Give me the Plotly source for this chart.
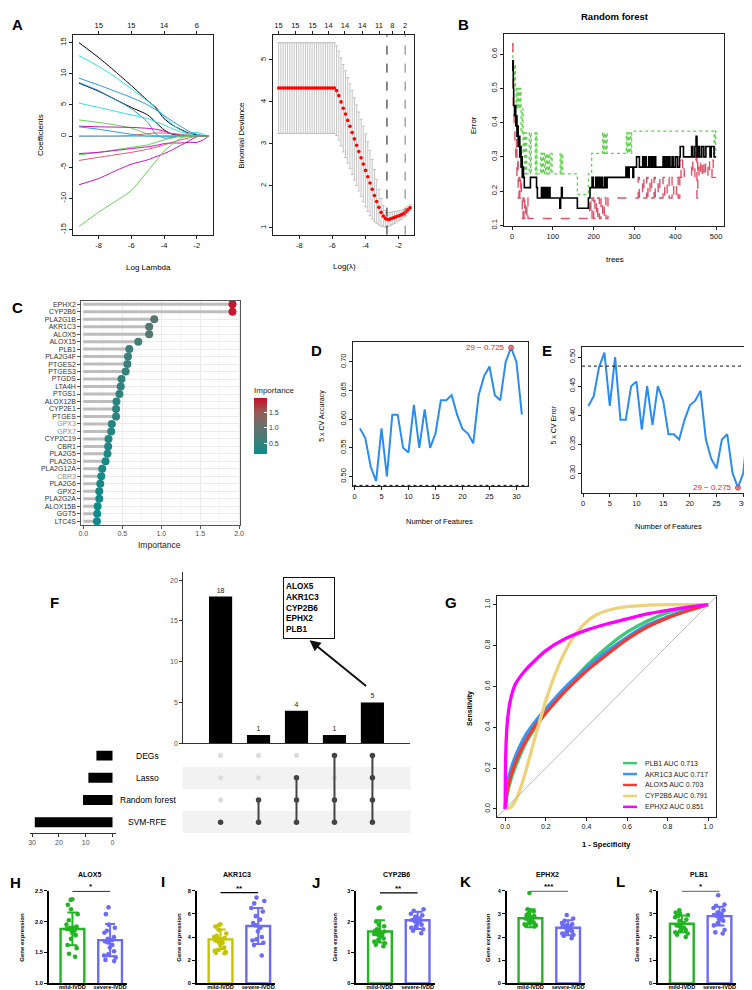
import plotly.graph_objects as go
import numpy as np

W, H = 752, 990
FONT = "Liberation Sans, Arial, Helvetica, sans-serif"


def xd(a, b):
    return [a / W, b / W]


def yd(top, bottom):
    return [1 - bottom / H, 1 - top / H]


def px(x):
    return x / W


def py(y):
    return 1 - y / H


# ============================ DATA ============================
# --- A (left): lasso coefficient paths
lasso_loglambda = [-9.2, -8, -7, -6, -5, -4.5, -4, -3.5, -3, -2.5, -2, -1.6, -1.3]
coef_p01 = [15.0, 12.6, 10.4, 8.1, 5.7, 4.5, 2.8, 1.8, 1.1, 0.5, 0.2, 0.05, 0]
coef_p02 = [12.9, 11.2, 9.5, 7.6, 5.6, 4.7, 3.1, 1.9, 1.0, 0.4, 0.6, 0.3, 0]
coef_p03 = [9.3, 8.2, 7.2, 6.2, 5.0, 4.2, 3.3, 2.4, 1.6, 0.8, 0.3, 0.1, 0]
coef_p04 = [8.5, 7.2, 5.9, 4.6, 3.4, 2.2, 1.0, 0.3, 0.1, 0, 0, 0, 0]
coef_p05 = [8.6, 7.3, 5.9, 4.4, 2.2, 0.3, -0.3, -0.2, 0, 0, 0, 0, 0]
coef_p06 = [5.3, 4.6, 4.0, 3.4, 2.8, 2.3, 1.8, 1.2, 0.7, 0.3, 0.1, 0, 0]
coef_p07 = [2.6, 2.2, 1.8, 1.3, 0.3, 0, 0, 0, 0, 0, 0, 0, 0]
coef_p08 = [1.6, 1.5, 1.45, 1.4, 1.25, 1.1, 0.8, 0.4, 0.2, 0.05, 0, 0, 0]
coef_p09 = [1.5, 1.1, 0.7, 0.3, 0, 0, 0, 0, 0, 0, 0, 0, 0]
coef_p10 = [0, 0, 0, 0.1, 0.4, 0.5, 0.5, 0.4, 0.3, 0.15, 0.05, 0, 0]
coef_p11 = [0, 0, 0, 0, 0, 0, 0, 0, 0, 0, 0, 0, 0]
coef_p12 = [-3.0, -2.6, -2.2, -1.8, -1.4, -1.0, -0.6, -0.3, 0, 0, 0, 0, 0]
coef_p13 = [-2.8, -2.6, -2.3, -2.0, -1.7, -1.5, -1.2, -1.1, -1.1, -1.0, -1.0, -0.6, 0]
coef_p14 = [-3.9, -3.4, -3.0, -2.6, -2.1, -1.8, -1.4, -1.0, -0.6, -0.3, 0, 0, 0]
coef_p15 = [-7.8, -6.8, -5.6, -4.5, -3.8, -3.3, -2.8, -2.2, -1.5, -0.8, -0.1, 0, 0]
coef_p16 = [-14.5, -12.2, -10.5, -8.7, -5.6, -4.0, -2.4, -1.3, -0.3, 0, 0, 0, 0]
coef_paths = [coef_p01, coef_p02, coef_p03, coef_p04, coef_p05, coef_p06, coef_p07, coef_p08,
              coef_p09, coef_p10, coef_p11, coef_p12, coef_p13, coef_p14, coef_p15, coef_p16]
lasso_top_ticks = [-8, -6, -4, -2]
lasso_top_labels = ["15", "15", "14", "6"]

# --- A (right): cross-validated binomial deviance
cv_lambda_from, cv_lambda_to = -9.25, -1.30
cv_deviance = [4.33] * 26 + [
    4.27, 4.15, 4.00, 3.85, 3.71, 3.56, 3.42, 3.27, 3.12, 2.97, 2.82, 2.67, 2.52, 2.37,
    2.22, 2.07, 1.92, 1.77, 1.63, 1.49, 1.37, 1.28, 1.22, 1.20, 1.21, 1.23, 1.25, 1.27,
    1.29, 1.31, 1.34, 1.38, 1.43, 1.48]
cv_sd = [1.08] * 26 + [
    1.07, 1.06, 1.05, 1.04, 1.03, 1.02, 1.01, 1.00, 0.98, 0.96, 0.94, 0.92, 0.90, 0.87,
    0.83, 0.78, 0.71, 0.62, 0.52, 0.42, 0.33, 0.25, 0.20, 0.17, 0.16, 0.15, 0.14, 0.13,
    0.12, 0.11, 0.10, 0.09, 0.08, 0.07]
cv_lambda_min = -2.7
cv_lambda_1se = -1.6
cv_top_ticks = [-9.26, -8.24, -7.20, -6.24, -5.24, -4.20, -3.18, -2.38, -1.61]
cv_top_labels = ["15", "15", "15", "14", "14", "14", "11", "8", "2"]

# --- B: random forest error vs trees
rf_oob_trees = [1, 2, 3, 4, 6, 8, 9, 11, 12, 14, 15, 17, 19, 21, 22, 24, 25, 27, 28, 30,
                45, 60, 62, 72, 74, 77, 79, 82, 84, 86, 88, 91, 93, 95, 117, 119, 121, 123, 125, 160,
                187, 191, 196, 199, 205, 208, 211, 214, 218, 221, 226, 229, 233, 279, 281, 283, 285, 287, 294, 296,
                298, 305, 312, 320, 323, 326, 329, 335, 338, 342, 345, 349, 352, 370, 373, 377, 380, 384, 387, 392,
                395, 400, 405, 410, 412, 420, 440, 443, 448, 451, 453, 456, 460, 465, 470, 475, 485, 488, 495, 500]
rf_oob_err = [0.55, 0.58, 0.5, 0.45, 0.42, 0.45, 0.39, 0.42, 0.36, 0.39, 0.33, 0.36, 0.3, 0.33, 0.27, 0.3, 0.24, 0.27, 0.24, 0.21,
              0.24, 0.21, 0.18, 0.21, 0.18, 0.21, 0.18, 0.21, 0.18, 0.21, 0.18, 0.21, 0.18, 0.18, 0.15, 0.18, 0.21, 0.18, 0.18, 0.15,
              0.18, 0.21, 0.24, 0.21, 0.24, 0.21, 0.24, 0.21, 0.24, 0.21, 0.24, 0.21, 0.24, 0.27, 0.24, 0.27, 0.24, 0.27, 0.27, 0.24,
              0.27, 0.3, 0.27, 0.3, 0.27, 0.3, 0.27, 0.3, 0.27, 0.3, 0.27, 0.3, 0.27, 0.3, 0.27, 0.3, 0.27, 0.3, 0.27, 0.3,
              0.27, 0.3, 0.27, 0.3, 0.33, 0.3, 0.33, 0.3, 0.33, 0.36, 0.3, 0.33, 0.3, 0.33, 0.3, 0.33, 0.3, 0.33, 0.3, 0.3]
rf_c1_trees = [1, 2, 3, 5, 7, 9, 11, 12, 14, 15, 17, 19, 21, 23, 25, 27, 29, 31, 33, 36,
               39, 190, 193, 196, 200, 203, 207, 210, 214, 218, 222, 226, 230, 235, 309, 312, 320, 323, 330, 333,
               338, 342, 348, 351, 358, 362, 370, 374, 380, 385, 392, 396, 403, 407, 411, 414, 418, 422, 440, 443,
               448, 451, 453, 455, 458, 462, 466, 470, 474, 480, 484, 490, 493, 500]
rf_c1_err = [0.63, 0.55, 0.45, 0.4, 0.35, 0.3, 0.35, 0.24, 0.3, 0.18, 0.24, 0.18, 0.24, 0.18, 0.12, 0.18, 0.12, 0.18, 0.12, 0.18,
             0.12, 0.18, 0.12, 0.18, 0.12, 0.18, 0.12, 0.18, 0.12, 0.18, 0.12, 0.18, 0.12, 0.18, 0.24, 0.18, 0.24, 0.18, 0.24, 0.18,
             0.24, 0.18, 0.24, 0.18, 0.24, 0.18, 0.24, 0.18, 0.24, 0.18, 0.24, 0.18, 0.24, 0.18, 0.29, 0.24, 0.29, 0.24, 0.29, 0.24,
             0.29, 0.35, 0.18, 0.29, 0.24, 0.29, 0.24, 0.29, 0.24, 0.29, 0.24, 0.29, 0.24, 0.24]
rf_c2_trees = [1, 2, 4, 6, 8, 10, 12, 14, 16, 18, 20, 22, 25, 27, 29, 31, 33, 36, 42, 45,
               47, 55, 57, 59, 61, 70, 72, 75, 77, 80, 82, 85, 87, 90, 92, 95, 98, 118, 120, 122,
               124, 160, 187, 195, 222, 224, 226, 228, 231, 233, 280, 282, 284, 286, 288, 291, 293, 300, 495, 497,
               499, 500]
rf_c2_err = [0.63, 0.57, 0.5, 0.57, 0.5, 0.44, 0.5, 0.44, 0.5, 0.44, 0.5, 0.37, 0.44, 0.31, 0.37, 0.25, 0.37, 0.25, 0.37, 0.25,
             0.37, 0.37, 0.25, 0.37, 0.25, 0.31, 0.25, 0.31, 0.25, 0.31, 0.25, 0.31, 0.25, 0.31, 0.25, 0.31, 0.25, 0.31, 0.25, 0.31,
             0.25, 0.19, 0.25, 0.31, 0.37, 0.31, 0.37, 0.31, 0.37, 0.31, 0.37, 0.31, 0.37, 0.31, 0.37, 0.31, 0.37, 0.375, 0.31, 0.375,
             0.31, 0.31]

# --- C: random forest importance
imp_genes = ["EPHX2", "CYP2B6", "PLA2G1B", "AKR1C3", "ALOX5", "ALOX15", "PLB1", "PLA2G4F", "PTGES2", "PTGES3",
             "PTGDS", "LTA4H", "PTGS1", "ALOX12B", "CYP2E1", "PTGES", "GPX3", "GPX7", "CYP2C19", "CBR1",
             "PLA2G5", "PLA2G3", "PLA2G12A", "CBR3", "PLA2G6", "GPX2", "PLA2G2A", "ALOX15B", "GGT5", "LTC4S"]
imp_values = [1.915, 1.915, 0.91, 0.845, 0.845, 0.705, 0.59, 0.573, 0.565, 0.543,
              0.49, 0.48, 0.463, 0.425, 0.42, 0.42, 0.365, 0.357, 0.323, 0.318,
              0.31, 0.285, 0.242, 0.23, 0.217, 0.204, 0.204, 0.183, 0.178, 0.174]
imp_gray_genes = ["GPX3", "GPX7", "CBR3"]

# --- D / E: SVM-RFE
svm_n_features = list(range(1, 32))
svm_accuracy = [0.584, 0.567, 0.517, 0.492, 0.584, 0.500, 0.608, 0.608, 0.550, 0.542,
                0.625, 0.550, 0.617, 0.550, 0.575, 0.633, 0.633, 0.642, 0.608, 0.583,
                0.575, 0.558, 0.642, 0.675, 0.692, 0.642, 0.633, 0.700, 0.725, 0.700, 0.608]
svm_error = [0.416, 0.433, 0.483, 0.508, 0.416, 0.500, 0.392, 0.392, 0.450, 0.458,
             0.375, 0.450, 0.383, 0.450, 0.425, 0.367, 0.367, 0.358, 0.392, 0.417,
             0.425, 0.442, 0.358, 0.325, 0.308, 0.358, 0.367, 0.300, 0.275, 0.300, 0.392]
svm_best_n = 29
svm_acc_ref = 0.4845
svm_err_ref = 0.4846

# --- F: UpSet
upset_sets = ["DEGs", "Lasso", "Random forest", "SVM-RFE"]
upset_set_sizes = [6, 9, 11, 29]
upset_counts = [18, 1, 4, 1, 5]
upset_membership = [  # rows = sets, columns = intersections
    [0, 0, 0, 1, 1],
    [0, 0, 1, 0, 1],
    [0, 1, 1, 1, 1],
    [1, 1, 1, 1, 1],
]
upset_genes = ["ALOX5", "AKR1C3", "CYP2B6", "EPHX2", "PLB1"]

# --- G: ROC curves
roc_labels = ["PLB1 AUC 0.713", "AKR1C3 AUC 0.717", "ALOX5 AUC 0.703", "CYP2B6 AUC 0.791", "EPHX2 AUC 0.851"]
roc_fpr_std = [0, 0.01, 0.03, 0.06, 0.1, 0.15, 0.2, 0.3, 0.4, 0.5, 0.6, 0.7, 0.8, 0.9, 1.0]
roc_tpr_plb1 = [0, 0.07, 0.15, 0.23, 0.32, 0.40, 0.47, 0.59, 0.70, 0.79, 0.865, 0.92, 0.96, 0.985, 1.0]
roc_tpr_akr1c3 = [0, 0.12, 0.20, 0.28, 0.36, 0.43, 0.49, 0.60, 0.69, 0.77, 0.84, 0.90, 0.94, 0.975, 1.0]
roc_tpr_alox5 = [0, 0.09, 0.17, 0.25, 0.33, 0.41, 0.47, 0.58, 0.675, 0.755, 0.83, 0.89, 0.935, 0.97, 1.0]
roc_fpr_cyp2b6 = [0, 0.03, 0.06, 0.1, 0.15, 0.2, 0.25, 0.3, 0.35, 0.4, 0.45, 0.5, 0.6, 0.7, 0.8, 1.0]
roc_tpr_cyp2b6 = [0, 0.01, 0.06, 0.18, 0.36, 0.53, 0.67, 0.78, 0.86, 0.915, 0.95, 0.97, 0.99, 0.997, 1.0, 1.0]
roc_fpr_ephx2 = [0, 0.002, 0.01, 0.025, 0.05, 0.1, 0.15, 0.2, 0.3, 0.4, 0.5, 0.6, 0.7, 0.8, 0.9, 1.0]
roc_tpr_ephx2 = [0, 0.25, 0.42, 0.53, 0.61, 0.68, 0.73, 0.775, 0.835, 0.875, 0.905, 0.93, 0.955, 0.972, 0.988, 1.0]

# --- H-L: gene expression
groups = ["mild-IVDD", "severe-IVDD"]
expr_titles = ["ALOX5", "AKR1C3", "CYP2B6", "EPHX2", "PLB1"]
expr_sig = ["*", "**", "**", "***", "*"]
expr_mean = [[1.88, 1.70], [3.80, 4.95], [1.68, 2.04], [2.81, 2.40], [2.57, 2.90]]
expr_sd = [[0.265, 0.26], [0.85, 1.55], [0.36, 0.28], [0.39, 0.32], [0.36, 0.40]]
expr_mild = [
    [2.36, 2.35, 2.27, 2.20, 2.12, 2.02, 1.95, 1.92, 1.90, 1.90, 1.88, 1.87, 1.85, 1.82, 1.78, 1.72, 1.62, 1.57, 1.48, 1.43],
    [5.1, 5.0, 4.9, 4.6, 4.3, 4.1, 4.0, 3.9, 3.85, 3.8, 3.7, 3.6, 3.5, 3.3, 3.1, 2.9, 2.8, 2.7, 2.65, 2.6],
    [2.45, 2.43, 2.0, 1.9, 1.85, 1.75, 1.7, 1.68, 1.65, 1.62, 1.6, 1.58, 1.55, 1.5, 1.45, 1.4, 1.35, 1.3, 1.25, 1.2],
    [3.9, 3.2, 3.15, 3.1, 3.0, 2.95, 2.9, 2.85, 2.85, 2.8, 2.75, 2.7, 2.65, 2.6, 2.6, 2.55, 2.5, 2.5, 2.45],
    [3.15, 3.05, 3.0, 2.95, 2.9, 2.85, 2.75, 2.7, 2.6, 2.5, 2.45, 2.4, 2.35, 2.3, 2.25, 2.2, 2.15, 2.1, 2.0],
]
expr_severe = [
    [2.23, 2.12, 1.95, 1.90, 1.85, 1.82, 1.75, 1.72, 1.70, 1.68, 1.66, 1.62, 1.58, 1.52, 1.47, 1.45, 1.42, 1.38, 1.36],
    [7.4, 7.1, 6.9, 6.5, 6.2, 5.8, 5.5, 5.2, 5.0, 4.8, 4.5, 4.0, 3.8, 3.7, 3.5, 3.3, 2.4],
    [2.4, 2.35, 2.25, 2.2, 2.15, 2.1, 2.05, 2.0, 2.0, 1.95, 1.9, 1.85, 1.8, 1.75, 1.7, 1.62],
    [2.95, 2.8, 2.7, 2.6, 2.55, 2.5, 2.45, 2.45, 2.4, 2.35, 2.3, 2.25, 2.2, 2.15, 2.1, 2.05, 1.95],
    [3.8, 3.4, 3.35, 3.25, 3.15, 3.05, 3.0, 2.95, 2.9, 2.85, 2.75, 2.7, 2.6, 2.5, 2.3, 2.2, 2.15],
]
expr_sig_y = [2.49, 7.83, 2.93, 3.985, 3.985]
expr_yrange = [[1.0, 2.5], [0, 8], [0, 3], [0, 4], [0, 4]]
expr_yticks = [[1.0, 1.5, 2.0, 2.5], [0, 2, 4, 6, 8], [0, 1, 2, 3], [0, 1, 2, 3, 4], [0, 1, 2, 3, 4]]

# ============================ STYLE ============================
R_PAL = ["#000000", "#DF536B", "#61D04F", "#2297E6", "#28E2E5", "#CD0BBC"]
coef_colors = [R_PAL[0], R_PAL[4], R_PAL[3], R_PAL[0], R_PAL[3], R_PAL[4], R_PAL[2], R_PAL[5],
               R_PAL[3], R_PAL[1], "#4FB3D9", R_PAL[2], R_PAL[5], R_PAL[1], R_PAL[5], R_PAL[2]]
roc_colors = ["#3CC878", "#3596F5", "#F03C32", "#EED27A", "#FF00FF"]
GREEN, BLUE, OLIVE = "#22B422", "#6B6BF7", "#C4C400"
mild_colors = [GREEN, OLIVE, GREEN, GREEN, GREEN]

fig = go.Figure()
L = dict(width=W, height=H, margin=dict(l=0, r=0, t=0, b=0), autosize=False,
         plot_bgcolor="white", paper_bgcolor="white", showlegend=False,
         barmode="overlay", boxmode="overlay", font=dict(family=FONT, color="black"))
ann = []
shp = []


def raxis(**kw):
    d = dict(showline=True, linecolor="#222", linewidth=1, mirror=True,
             ticks="outside", ticklen=3, tickwidth=0.8, tickcolor="#222",
             showgrid=False, zeroline=False,
             tickfont=dict(family=FONT, size=7.5, color="#111"))
    d.update(kw)
    return d


def label(x, y, t, size=8, bold=False, angle=0, color="black", xanchor="center",
          yanchor="middle", xref="paper", yref="paper", **kw):
    ann.append(dict(x=x, y=y, xref=xref, yref=yref, text=t, showarrow=False, textangle=angle,
                    xanchor=xanchor, yanchor=yanchor,
                    font=dict(family=FONT, size=size, color=color,
                              weight="bold" if bold else "normal"), **kw))


def lbl(vals, fmt):
    return [fmt.format(v) for v in vals]


# ---------------- A left ----------------
for vals, col in zip(coef_paths, coef_colors):
    fig.add_trace(go.Scatter(x=lasso_loglambda, y=vals, mode="lines", xaxis="x", yaxis="y",
                             line=dict(color=col, width=1, shape="spline", smoothing=0.6),
                             hoverinfo="skip"))
fig.add_trace(go.Scatter(x=[None], y=[None], xaxis="x2", yaxis="y", hoverinfo="skip"))
L["xaxis"] = raxis(domain=xd(63.3, 205), range=[-9.58, -0.99], anchor="y",
                   tickvals=[-8, -6, -4, -2], ticktext=lbl([-8, -6, -4, -2], "{}"))
L["yaxis"] = raxis(domain=yd(24.3, 225), range=[-15.8, 16.2], anchor="x", tickangle=-90,
                   tickvals=[-15, -10, -5, 0, 5, 10, 15], ticktext=lbl([-15, -10, -5, 0, 5, 10, 15], "{}"))
L["xaxis2"] = raxis(overlaying="x", side="top", anchor="y", range=[-9.58, -0.99],
                    tickvals=lasso_top_ticks, ticktext=lasso_top_labels, showline=False, mirror=False)
label(px(30), py(125), "Coefficients", size=8, angle=-90)
label(px(140), py(258), "Log Lambda", size=8)

# ---------------- A right ----------------
cv_loglambda = np.linspace(cv_lambda_from, cv_lambda_to, len(cv_deviance))
fig.add_trace(go.Scatter(x=cv_loglambda, y=cv_deviance, mode="markers", xaxis="x3", yaxis="y3",
                         marker=dict(color="#FF0000", size=3.6),
                         error_y=dict(type="data", array=cv_sd, color="#B5B5B5", thickness=0.8, width=1.5),
                         hoverinfo="skip"))
fig.add_trace(go.Scatter(x=[None], y=[None], xaxis="x4", yaxis="y3", hoverinfo="skip"))
L["xaxis3"] = raxis(domain=xd(265, 407.3), range=[-9.6, -1.06], anchor="y3",
                    tickvals=[-8, -6, -4, -2], ticktext=lbl([-8, -6, -4, -2], "{}"))
L["yaxis3"] = raxis(domain=yd(24.3, 225), range=[0.84, 5.59], anchor="x3", tickangle=-90,
                    tickvals=[1, 2, 3, 4, 5])
L["xaxis4"] = raxis(overlaying="x3", side="top", anchor="y3", range=[-9.6, -1.06],
                    tickvals=cv_top_ticks, ticktext=cv_top_labels, showline=False, mirror=False)
shp.append(dict(type="line", xref="x3", yref="y3 domain", x0=cv_lambda_min, x1=cv_lambda_min, y0=0, y1=1,
                line=dict(color="#111", width=1, dash="dash")))
shp.append(dict(type="line", xref="x3", yref="y3 domain", x0=cv_lambda_1se, x1=cv_lambda_1se, y0=0, y1=1,
                line=dict(color="#777", width=1, dash="dash")))
label(px(233.3), py(125), "Binomial Deviance", size=8, angle=-90)
label(px(336.7), py(257), "Log(λ)", size=8)

# ---------------- B ----------------
fig.add_trace(go.Scatter(x=rf_c2_trees, y=rf_c2_err, mode="lines", xaxis="x5", yaxis="y5",
                         line=dict(color="#61D04F", width=1.3, dash="dot", shape="hv"), hoverinfo="skip"))
fig.add_trace(go.Scatter(x=rf_c1_trees, y=rf_c1_err, mode="lines", xaxis="x5", yaxis="y5",
                         line=dict(color="#DF536B", width=1.4, dash="dash", shape="hv"), hoverinfo="skip"))
fig.add_trace(go.Scatter(x=rf_oob_trees, y=rf_oob_err, mode="lines", xaxis="x5", yaxis="y5",
                         line=dict(color="#000000", width=1.6, shape="hv"), hoverinfo="skip"))
L["xaxis5"] = raxis(domain=xd(498.3, 720), range=[-18.96, 519.96], anchor="y5",
                    tickvals=[0, 100, 200, 300, 400, 500])
L["yaxis5"] = raxis(domain=yd(23.3, 216.7), range=[0.097, 0.658], anchor="x5", tickangle=-90,
                    tickvals=[0.1, 0.2, 0.3, 0.4, 0.5, 0.6], ticktext=lbl([0.1, 0.2, 0.3, 0.4, 0.5, 0.6], "{:.1f}"))
label(px(610), py(6), "Random forest", size=9.5, bold=True)
label(px(466.7), py(115), "Error", size=8, angle=-90)
label(px(610), py(250), "trees", size=8)

# ---------------- C ----------------
seg_x, seg_y = [], []
for i, v in enumerate(imp_values):
    seg_x += [0, v, None]
    seg_y += [i, i, None]
fig.add_trace(go.Scatter(x=seg_x, y=seg_y, mode="lines", xaxis="x6", yaxis="y6",
                         line=dict(color="#BDBDBD", width=3), hoverinfo="skip"))
imp_cs = [[0, "#0E8B8B"], [0.25, "#3E7F79"], [0.5, "#67706A"], [0.75, "#955A55"], [1, "#CC0C2A"]]
fig.add_trace(go.Scatter(
    x=imp_values, y=list(range(len(imp_values))), mode="markers", xaxis="x6", yaxis="y6",
    marker=dict(size=8, color=imp_values, colorscale=imp_cs, cmin=0.153, cmax=1.977, showscale=True,
                colorbar=dict(x=px(246), xanchor="left", y=py(375), yanchor="top", len=70 / H,
                              lenmode="fraction", thickness=13, outlinewidth=0, xpad=0, ypad=0,
                              tickvals=[0.5, 1.0, 1.5], ticktext=["0.5", "1.0", "1.5"],
                              ticks="inside", ticklen=3, tickcolor="white", tickwidth=1,
                              tickfont=dict(family=FONT, size=7, color="#333"),
                              title=dict(text="Importance", side="top",
                                         font=dict(family=FONT, size=8, color="#222")))),
    hoverinfo="skip"))
gene_tick = [f'<span style="color:#8C8C8C">{g}</span>' if g in imp_gray_genes else g for g in imp_genes]
L["xaxis6"] = dict(domain=xd(71.3, 232.3), range=[-0.034, 2.017], anchor="y6",
                   showline=True, mirror=True, linecolor="#555", linewidth=0.8,
                   ticks="outside", ticklen=2.5, tickwidth=0.6, tickcolor="#555",
                   tickvals=[0, 0.5, 1, 1.5, 2], ticktext=["0.0", "0.5", "1.0", "1.5", "2.0"],
                   showgrid=True, gridcolor="#EBEBEB", gridwidth=0.8, zeroline=False,
                   ticklabelstandoff=-1,
                   minor=dict(tickvals=[0.25, 0.75, 1.25, 1.75], showgrid=True, gridcolor="#F5F5F5",
                              gridwidth=0.5, ticks=""),
                   tickfont=dict(family=FONT, size=7, color="#4D4D4D"))
L["yaxis6"] = dict(domain=yd(291.7, 517.3), range=[29.53, -0.44], anchor="x6",
                   showline=True, mirror=True, linecolor="#555", linewidth=0.8,
                   ticks="outside", ticklen=2.5, tickwidth=0.6, tickcolor="#555",
                   tickvals=list(range(len(imp_genes))), ticktext=gene_tick,
                   showgrid=True, gridcolor="#EBEBEB", gridwidth=0.8, zeroline=False,
                   tickfont=dict(family=FONT, size=7, color="#333"))
label(px(151), py(537), "Importance", size=8.5, color="#222")

# ---------------- D ----------------
fig.add_trace(go.Scatter(x=svm_n_features, y=svm_accuracy, mode="lines", xaxis="x7", yaxis="y7",
                         line=dict(color="#2B8CF0", width=2), hoverinfo="skip"))
fig.add_trace(go.Scatter(x=[svm_best_n], y=[svm_accuracy[svm_best_n - 1]], mode="markers",
                         xaxis="x7", yaxis="y7", hoverinfo="skip",
                         marker=dict(size=5, color="rgba(225,110,120,0.85)", line=dict(color="#D03040", width=0.8))))
L["xaxis7"] = raxis(domain=xd(346.2, 522.5), range=[-0.2, 32.2], anchor="y7",
                    tickvals=[0, 5, 10, 15, 20, 25, 30])
L["yaxis7"] = raxis(domain=yd(333.3, 478.3), range=[0.4827, 0.7343], anchor="x7", tickangle=-90,
                    tickvals=[0.5, 0.55, 0.6, 0.65, 0.7], ticktext=lbl([0.5, 0.55, 0.6, 0.65, 0.7], "{:.2f}"))
shp.append(dict(type="line", xref="x7 domain", yref="y7", x0=0, x1=1, y0=svm_acc_ref, y1=svm_acc_ref,
                line=dict(color="#111", width=1, dash="dot")))
ann.append(dict(x=svm_best_n, y=svm_accuracy[svm_best_n - 1], xref="x7", yref="y7",
                text=f"{svm_best_n} − {svm_accuracy[svm_best_n - 1]:.3f}", showarrow=False,
                xanchor="right", yanchor="middle", xshift=-4,
                font=dict(family=FONT, size=8, color="#E8202A")))
label(px(315), py(406.7), "5 x CV Accuracy", size=7, angle=-90)
label(px(433.3), py(513.3), "Number of Features", size=7.5)

# ---------------- E ----------------
fig.add_trace(go.Scatter(x=svm_n_features, y=svm_error, mode="lines", xaxis="x8", yaxis="y8",
                         line=dict(color="#2B8CF0", width=2), hoverinfo="skip"))
fig.add_trace(go.Scatter(x=[svm_best_n], y=[svm_error[svm_best_n - 1]], mode="markers",
                         xaxis="x8", yaxis="y8", hoverinfo="skip",
                         marker=dict(size=5, color="rgba(225,110,120,0.85)", line=dict(color="#D03040", width=0.8))))
L["xaxis8"] = raxis(domain=xd(576.6, 751), range=[-0.2, 32.2], anchor="y8",
                    tickvals=[0, 5, 10, 15, 20, 25, 30])
L["yaxis8"] = raxis(domain=yd(338.2, 485), range=[0.2657, 0.5173], anchor="x8", tickangle=-90,
                    tickvals=[0.3, 0.35, 0.4, 0.45, 0.5], ticktext=lbl([0.3, 0.35, 0.4, 0.45, 0.5], "{:.2f}"))
shp.append(dict(type="line", xref="x8 domain", yref="y8", x0=0, x1=1, y0=svm_err_ref, y1=svm_err_ref,
                line=dict(color="#111", width=1, dash="dot")))
ann.append(dict(x=svm_best_n, y=svm_error[svm_best_n - 1], xref="x8", yref="y8",
                text=f"{svm_best_n} − {svm_error[svm_best_n - 1]:.3f}", showarrow=False,
                xanchor="right", yanchor="middle", xshift=-4,
                font=dict(family=FONT, size=8, color="#E8202A")))
label(px(547.7), py(416.7), "5 x CV Error", size=7, angle=-90)
label(px(664), py(518.3), "Number of Features", size=7.5)

# ---------------- F ----------------
cols = list(range(1, len(upset_counts) + 1))
fig.add_trace(go.Bar(x=cols, y=upset_counts, width=0.61, xaxis="x9", yaxis="y9",
                     marker=dict(color="black", line=dict(width=0)),
                     text=[str(c) for c in upset_counts], textposition="outside", cliponaxis=False,
                     textfont=dict(family=FONT, size=7, color="#222"), hoverinfo="skip"))
L["xaxis9"] = dict(domain=xd(174, 403.6), range=[0, 6], anchor="y9", showline=True, linecolor="#333",
                   linewidth=1, showticklabels=False, ticks="", showgrid=False, zeroline=False)
L["yaxis9"] = dict(domain=yd(564.5, 736.7), range=[0, 21], anchor="x9", showline=True, linecolor="#333",
                   linewidth=0.8, ticks="outside", ticklen=2.5, tickcolor="#333", tickwidth=0.6,
                   tickvals=[0, 5, 10, 15, 20], showgrid=False, zeroline=False,
                   tickfont=dict(family=FONT, size=7, color="#555"))
# matrix
for r in range(len(upset_sets)):
    if r % 2 == 1:
        shp.append(dict(type="rect", xref="x10 domain", yref="y10", x0=0, x1=1, y0=r - 0.5, y1=r + 0.5,
                        fillcolor="#F2F2F2", line=dict(width=0), layer="below"))
gx, gy, dx, dy, lx, ly = [], [], [], [], [], []
for c in range(len(upset_counts)):
    members = [r for r in range(len(upset_sets)) if upset_membership[r][c]]
    for r in range(len(upset_sets)):
        if upset_membership[r][c]:
            dx.append(c + 1); dy.append(r)
        else:
            gx.append(c + 1); gy.append(r)
    if len(members) > 1:
        lx += [c + 1, c + 1, None]
        ly += [min(members), max(members), None]
fig.add_trace(go.Scatter(x=gx, y=gy, mode="markers", xaxis="x10", yaxis="y10",
                         marker=dict(color="#DCDCDC", size=5), hoverinfo="skip"))
fig.add_trace(go.Scatter(x=lx, y=ly, mode="lines", xaxis="x10", yaxis="y10",
                         line=dict(color="#444", width=2), hoverinfo="skip"))
fig.add_trace(go.Scatter(x=dx, y=dy, mode="markers", xaxis="x10", yaxis="y10",
                         marker=dict(color="#444", size=5.5), hoverinfo="skip"))
L["xaxis10"] = dict(domain=xd(174, 403.6), range=[0, 6], anchor="y10", visible=False)
L["yaxis10"] = dict(domain=yd(738, 827.3), range=[3.5, -0.5], anchor="x10", visible=False)
# set sizes
fig.add_trace(go.Bar(x=upset_set_sizes, y=list(range(len(upset_sets))), orientation="h", width=0.45,
                     xaxis="x11", yaxis="y11", marker=dict(color="black", line=dict(width=0)),
                     hoverinfo="skip"))
L["xaxis11"] = dict(domain=xd(20, 106.7), range=[30.85, -1.25], anchor="y11", showline=True,
                    linecolor="#333", linewidth=0.8, ticks="outside", ticklen=2.5, tickcolor="#333",
                    tickwidth=0.6, tickvals=[0, 10, 20, 30], showgrid=False, zeroline=False,
                    tickfont=dict(family=FONT, size=7, color="#555"))
L["yaxis11"] = dict(domain=yd(738, 827.3), range=[3.5, -0.5], anchor="x11", visible=False)
for r, s in enumerate(upset_sets):
    ann.append(dict(x=px(139), y=r, xref="paper", yref="y11", text=s, showarrow=False,
                    xanchor="center", yanchor="middle", font=dict(family=FONT, size=8.5, color="black")))
ann.append(dict(x=px(301.5), y=py(600.5), xref="paper", yref="paper",
                text="<br>".join(f"<b>{g}</b>" for g in upset_genes), showarrow=False,
                align="left", width=46, height=56, borderpad=2, bordercolor="#111", borderwidth=1,
                bgcolor="white", xanchor="center", yanchor="middle",
                font=dict(family=FONT, size=8.2, color="black")))
ann.append(dict(x=px(302), y=py(633), xref="paper", yref="paper", text="", showarrow=True,
                ax=58, ay=47, arrowhead=2, arrowsize=1.1, arrowwidth=2, arrowcolor="#111", standoff=0))

# ---------------- G ----------------
roc_series = [(roc_fpr_std, roc_tpr_plb1), (roc_fpr_std, roc_tpr_akr1c3), (roc_fpr_std, roc_tpr_alox5),
              (roc_fpr_cyp2b6, roc_tpr_cyp2b6), (roc_fpr_ephx2, roc_tpr_ephx2)]
shp.append(dict(type="line", xref="x12 domain", yref="y12 domain", x0=0, y0=0, x1=1, y1=1,
                line=dict(color="#AAAAAA", width=0.8)))
for (fx, ty), col in zip(roc_series, roc_colors):
    fig.add_trace(go.Scatter(x=fx, y=ty, mode="lines", xaxis="x12", yaxis="y12",
                             line=dict(color=col, width=3.3, shape="spline", smoothing=0.8),
                             hoverinfo="skip"))
L["xaxis12"] = raxis(domain=xd(491, 712), range=[-0.04, 1.04], anchor="y12",
                     tickvals=[0, 0.2, 0.4, 0.6, 0.8, 1.0], ticktext=lbl([0, 0.2, 0.4, 0.6, 0.8, 1.0], "{:.1f}"),
                     tickfont=dict(family=FONT, size=7, color="#111"))
L["yaxis12"] = raxis(domain=yd(589, 811), range=[-0.04, 1.04], anchor="x12", tickangle=-90,
                     tickvals=[0, 0.2, 0.4, 0.6, 0.8, 1.0], ticktext=lbl([0, 0.2, 0.4, 0.6, 0.8, 1.0], "{:.1f}"),
                     tickfont=dict(family=FONT, size=7, color="#111"))
for i, (name, col) in enumerate(zip(roc_labels, roc_colors)):
    yy = 756.7 + 11 * i
    shp.append(dict(type="line", xref="paper", yref="paper", x0=px(618), x1=px(632), y0=py(yy), y1=py(yy),
                    line=dict(color=col, width=2.5)))
    label(px(638), py(yy), name, size=7, xanchor="left", color="#222")
label(px(463), py(702), "Sensitivity", size=7, bold=True, angle=-90)
label(px(601.7), py(838.3), "1 - Specificity", size=7.5, bold=True)

# ---------------- H-L ----------------
panel_x0 = [39, 188.3, 349, 500.7, 653.3]
ylab_x = [11.7, 170, 328, 481.7, 631.7]
for k in range(5):
    xa, ya = f"x{13 + k}", f"y{13 + k}"
    cm = mild_colors[k]
    for g, col, mu, sd in zip(groups, [cm, BLUE], expr_mean[k], expr_sd[k]):
        fig.add_trace(go.Bar(x=[g], y=[mu], width=0.63, xaxis=xa, yaxis=ya,
                             marker=dict(color="white", line=dict(color=col, width=2.4)),
                             error_y=dict(type="data", array=[sd], color=col, thickness=2, width=5),
                             hoverinfo="skip"))
    for g, col, vals in zip(groups, [cm, BLUE], [expr_mild[k], expr_severe[k]]):
        fig.add_trace(go.Box(x=[g] * len(vals), y=vals, xaxis=xa, yaxis=ya, boxpoints="all",
                             jitter=0.75, pointpos=0, width=0.55, fillcolor="rgba(0,0,0,0)",
                             line=dict(width=0, color=col), whiskerwidth=0,
                             marker=dict(color=col, size=4.6), hoverinfo="skip"))
    x0 = panel_x0[k]
    L[f"xaxis{13 + k}"] = dict(domain=xd(x0, x0 + 79), range=[-0.63, 1.45], anchor=ya, type="category",
                               categoryorder="array", categoryarray=groups,
                               showline=True, linecolor="black", linewidth=1.5, ticks="",
                               showgrid=False, zeroline=False, ticklabelstandoff=-3,
                               tickfont=dict(family=FONT, size=5.6, color="black", weight="bold"))
    yt = expr_yticks[k]
    L[f"yaxis{13 + k}"] = dict(domain=yd(885, 978.3), range=expr_yrange[k], anchor=xa,
                               showline=True, linecolor="black", linewidth=1.5, ticks="outside",
                               ticklen=3, tickwidth=1.2, tickcolor="black", showgrid=False, zeroline=False,
                               tickvals=yt, ticktext=lbl(yt, "{:.1f}" if k == 0 else "{}"),
                               tickfont=dict(family=FONT, size=5.6, color="black", weight="bold"))
    shp.append(dict(type="line", xref=xa, yref=ya, x0=0, x1=1, y0=expr_sig_y[k], y1=expr_sig_y[k],
                    line=dict(color="black", width=1.2)))
    ann.append(dict(x=0.5, y=expr_sig_y[k], xref=xa, yref=ya, text=expr_sig[k], showarrow=False,
                    xanchor="center", yanchor="bottom", yshift=-2,
                    font=dict(family=FONT, size=8, color="black", weight="bold")))
    label(px(x0 + 41), py(869), expr_titles[k], size=7, bold=True)
    label(px(ylab_x[k]), py(931.7), "Gene expression", size=6, bold=True, angle=-90)

# ---------------- panel letters ----------------
letters = [("A", 7.3, 13.3), ("B", 456.7, 13.3), ("C", 7.3, 298.3), ("D", 309.3, 341.7),
           ("E", 541.7, 341.7), ("F", 45, 595), ("G", 445, 595), ("H", 6, 876.7),
           ("I", 154, 875.7), ("J", 308.3, 876.7), ("K", 459.3, 875.7), ("L", 615, 875.7)]
for t, x, y in letters:
    label(px(x), py(y), t, size=15, bold=True)

L["annotations"] = ann
L["shapes"] = shp
fig.update_layout(**L)
fig.write_html("out.html", config={"displayModeBar": False})
